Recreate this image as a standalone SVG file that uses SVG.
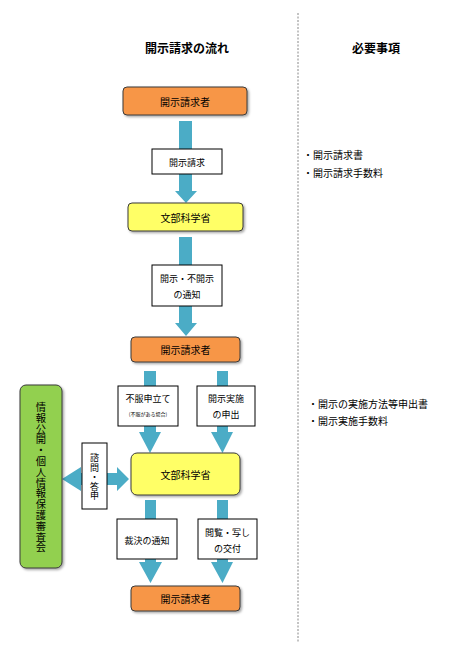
<svg xmlns="http://www.w3.org/2000/svg" width="457" height="655" viewBox="0 0 457 655">
<defs>
<filter id="sh" x="-10%" y="-20%" width="130%" height="160%">
<feDropShadow dx="1.5" dy="1.5" stdDeviation="1" flood-color="#000" flood-opacity="0.35"/>
</filter>
</defs>
<style>
text{font-family:"Noto Sans CJK JP","Noto Sans CJK SC",sans-serif;fill:#000;text-anchor:middle;dominant-baseline:central}
.node{stroke:#3a3a3a;stroke-width:1}
.or{fill:#F79646}
.ye{fill:#FFFF66}
.gr{fill:#92D050}
.lbl{fill:#fff;stroke:#000;stroke-width:1}
.ar{fill:#4BACC6}
.t10{font-size:10px}
.t9{font-size:9px}
.vert{writing-mode:vertical-rl}
.h{font-size:12px;font-weight:bold}
.side{font-size:10px;text-anchor:start}
</style>
<rect width="457" height="655" fill="#fff"/>
<line x1="298" y1="13" x2="298" y2="643" stroke="#888" stroke-width="1" stroke-dasharray="2,1.5"/>
<text class="h" x="187" y="47">開示請求の流れ</text>
<text class="h" x="376" y="47">必要事項</text>

<g id="connectors">
<path class="ar" d="M179,121 H192 V191 H197 L186,203 L175,191 H179 Z"/>
<path class="ar" d="M179,237 H192 V323 H197 L186,336 L175,323 H179 Z"/>
<path class="ar" d="M144,371 H156 V432 H161 L150,453 L139,432 H144 Z"/>
<path class="ar" d="M217,371 H228 V432 H233 L222.5,453 L211,432 H217 Z"/>
<path class="ar" d="M145,500 H156 V562 H162 L150.5,583 L139,562 H145 Z"/>
<path class="ar" d="M217,500 H228 V562 H233 L222.5,583 L211,562 H217 Z"/>
<path class="ar" d="M62,479 L81,467 V473 H117 V467 L129,479 L117,491 V485 H81 V491 Z"/>
</g>

<g id="label-kaiji-seikyu"><rect class="lbl" x="152" y="149" width="70" height="25"/><text class="t9" x="187" y="162">開示請求</text></g>
<g id="label-tsuchi"><rect class="lbl" x="152" y="265" width="70" height="41"/><text class="t9" x="187" y="278">開示・不開示</text><text class="t9" x="187" y="294">の通知</text></g>
<g id="label-fufuku"><rect class="lbl" x="118" y="386" width="60" height="40"/><text class="t9" x="148" y="398">不服申立て</text><text x="148" y="413" style="font-size:5px">(不服がある場合)</text></g>
<g id="label-jisshi"><rect class="lbl" x="197" y="386" width="58" height="40"/><text class="t9" x="226" y="398">開示実施</text><text class="t9" x="226" y="414">の申出</text></g>
<g id="label-shimon"><rect class="lbl" x="82" y="443" width="25" height="66"/>
<text class="vert" x="94.5" y="477" style="font-size:9px;letter-spacing:0.6px">諮問・答申</text></g>
<g id="label-saiketsu"><rect class="lbl" x="117" y="519" width="60" height="40"/><text class="t9" x="147" y="540">裁決の通知</text></g>
<g id="label-etsuran"><rect class="lbl" x="198" y="519" width="59" height="40"/><text class="t9" x="227.5" y="532">閲覧・写し</text><text class="t9" x="227.5" y="548">の交付</text></g>

<g id="requester1"><rect class="node or" x="123" y="87" width="124" height="28" rx="4" filter="url(#sh)"/><text class="t10" x="185" y="101">開示請求者</text></g>
<g id="mext1"><rect class="node ye" x="128" y="203" width="115" height="28" rx="4" filter="url(#sh)"/><text class="t10" x="185.5" y="217">文部科学省</text></g>
<g id="requester2"><rect class="node or" x="131" y="337" width="109" height="25" rx="4" filter="url(#sh)"/><text class="t10" x="185.5" y="349.5">開示請求者</text></g>
<g id="mext2"><rect class="node ye" x="131" y="453" width="109" height="42" rx="6" filter="url(#sh)"/><text class="t10" x="185.5" y="474">文部科学省</text></g>
<g id="requester3"><rect class="node or" x="131" y="586" width="109" height="25" rx="4" filter="url(#sh)"/><text class="t10" x="185.5" y="598.5">開示請求者</text></g>
<g id="council"><rect class="node gr" x="20" y="385" width="42" height="183" rx="6" filter="url(#sh)"/>
<text class="vert" x="41" y="477.5" style="font-size:10.3px;letter-spacing:0.5px">情報公開・個人情報保護審査会</text></g>

<g id="notes1"><text class="side" x="303" y="154">・開示請求書</text><text class="side" x="303" y="172">・開示請求手数料</text></g>
<g id="notes2"><text class="side" x="308" y="403">・開示の実施方法等申出書</text><text class="side" x="308" y="420">・開示実施手数料</text></g>
</svg>
